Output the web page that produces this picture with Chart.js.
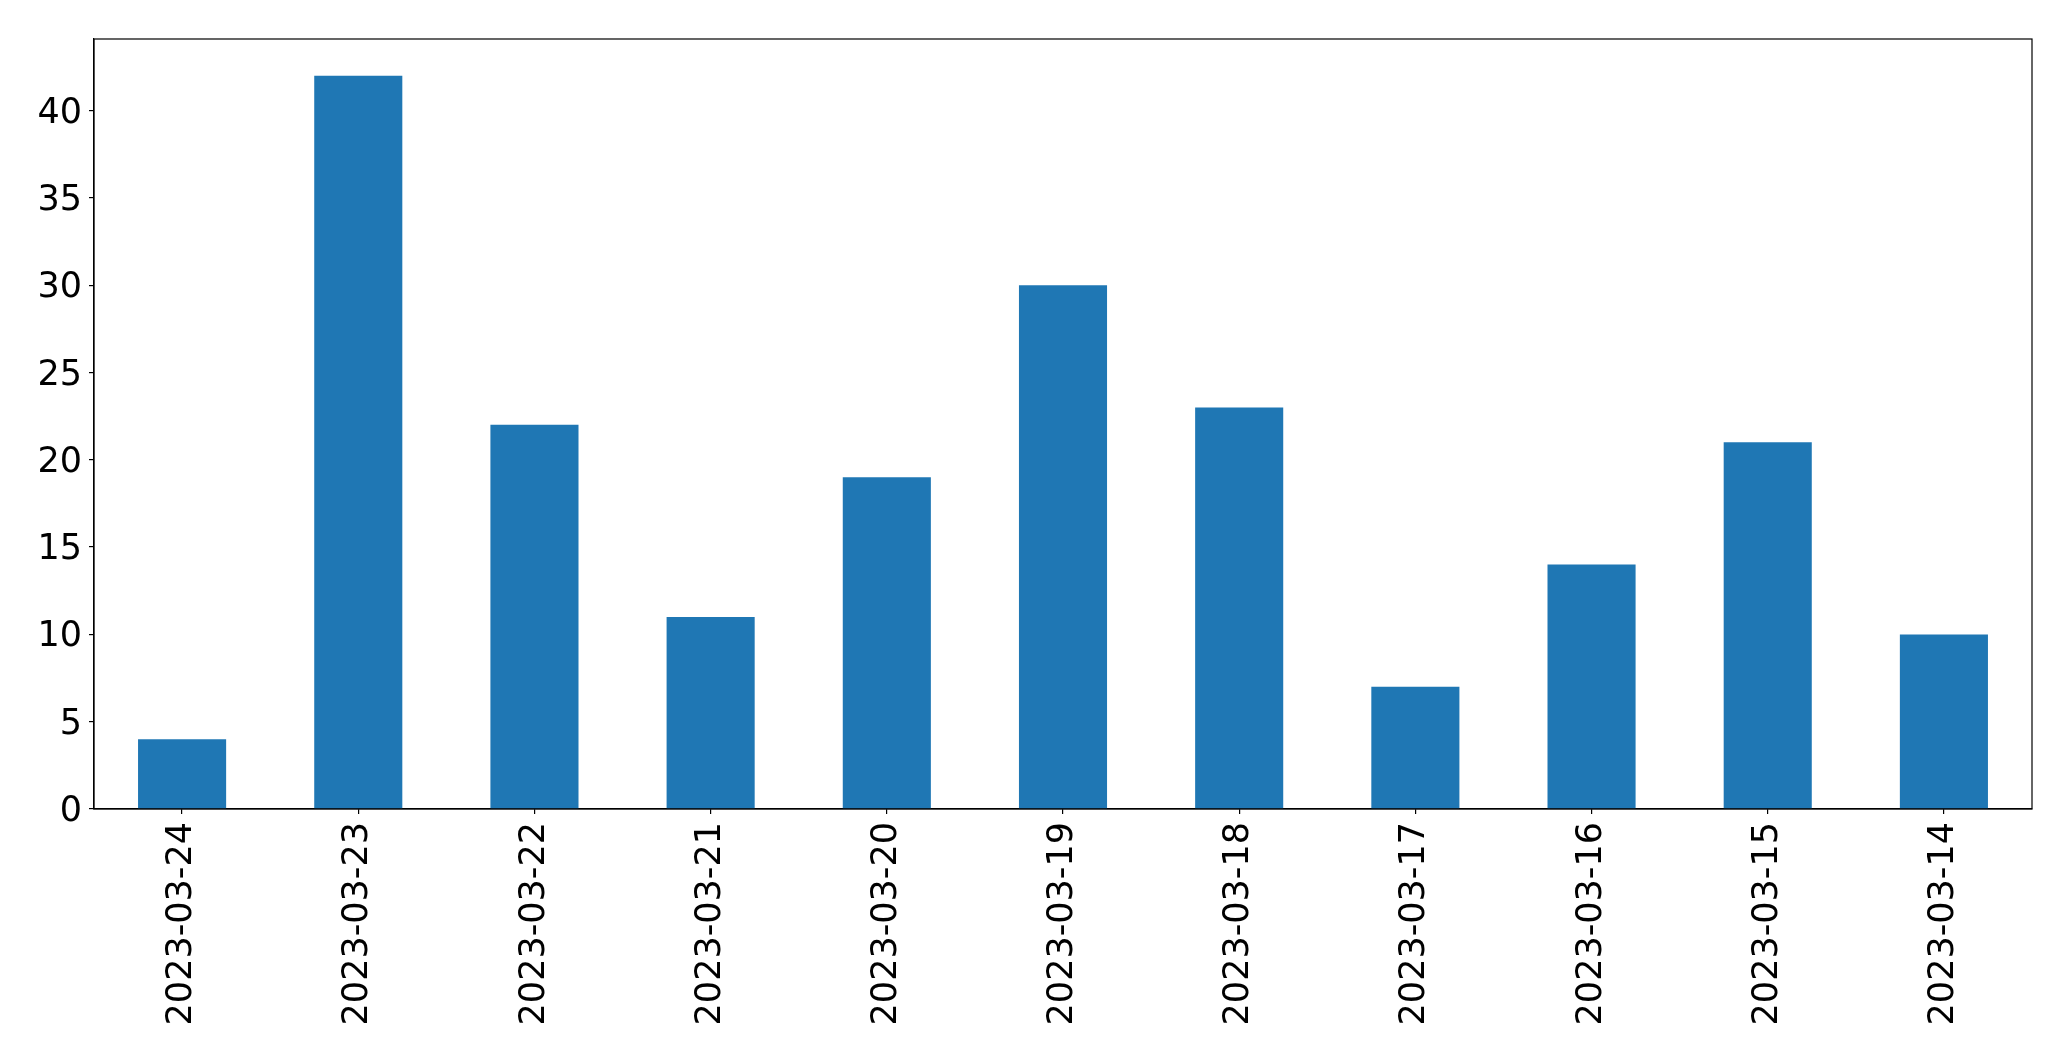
<!DOCTYPE html>
<html>
<head>
<meta charset="utf-8">
<script src="https://cdn.jsdelivr.net/npm/chart.js@4/dist/chart.umd.min.js"></script>
<style>
    html, body { margin: 0; padding: 0; background: #fff; }
    #wrap { width: 2071px; height: 1061px; }
</style>
</head>
<body>
<div id="wrap"><canvas id="barChart" width="2071" height="1061"></canvas></div>
<script>
    'use strict';

    // data
    var dates = ['2023-03-24', '2023-03-23', '2023-03-22', '2023-03-21', '2023-03-20',
        '2023-03-19', '2023-03-18', '2023-03-17', '2023-03-16', '2023-03-15', '2023-03-14'];
    var counts = [4, 42, 22, 11, 19, 30, 23, 7, 14, 21, 10];
    var yTicks = [0, 5, 10, 15, 20, 25, 30, 35, 40];
    var yMax = 44.1;

    var tickFont = { family: 'DejaVu Sans', size: 35 };

    // matplotlib style frame round the plot area
    var frame = {
        id: 'frame',
        afterDraw: function (chart) {
            var a = chart.chartArea;
            var ctx = chart.ctx;
            ctx.save();
            ctx.strokeStyle = '#000';
            ctx.lineWidth = 1.2;
            ctx.strokeRect(a.left, a.top, a.right - a.left, a.bottom - a.top);
            ctx.restore();
        }
    };

    var ctx = document.getElementById('barChart');
    var barChart = new Chart(ctx, {
        type: 'bar',
        data: {
            labels: dates,
            datasets: [
                {
                    data: counts,
                    backgroundColor: '#1f77b4',
                    barPercentage: 0.5,
                    categoryPercentage: 1.0
                }
            ]
        },
        options: {
            responsive: false,
            animation: false,
            events: [],
            layout: { padding: { top: 39, right: 39, left: 0, bottom: 0 } },
            plugins: {
                legend: { display: false },
                tooltip: { enabled: false }
            },
            scales: {
                x: {
                    offset: true,
                    grid: { display: true, offset: false, drawOnChartArea: false, drawTicks: true, tickLength: 5, color: '#000', lineWidth: 1.2 },
                    border: { display: true, color: '#000', width: 1.2 },
                    ticks: { color: '#000', font: tickFont, minRotation: 90, maxRotation: 90, padding: 8, autoSkip: false },
                    afterFit: function (scale) { scale.height = 252; }
                },
                y: {
                    min: 0,
                    max: yMax,
                    grid: { display: true, drawOnChartArea: false, drawTicks: true, tickLength: 5, color: '#000', lineWidth: 1.2 },
                    border: { display: true, color: '#000', width: 1.2 },
                    ticks: { color: '#000', font: tickFont, stepSize: 5, padding: 7, labelOffset: 3 },
                    afterBuildTicks: function (scale) {
                        scale.ticks = yTicks.map(function (v) { return { value: v }; });
                    },
                    afterFit: function (scale) { scale.width = 94; }
                }
            }
        },
        plugins: [frame]
    });
</script>
</body>
</html>
